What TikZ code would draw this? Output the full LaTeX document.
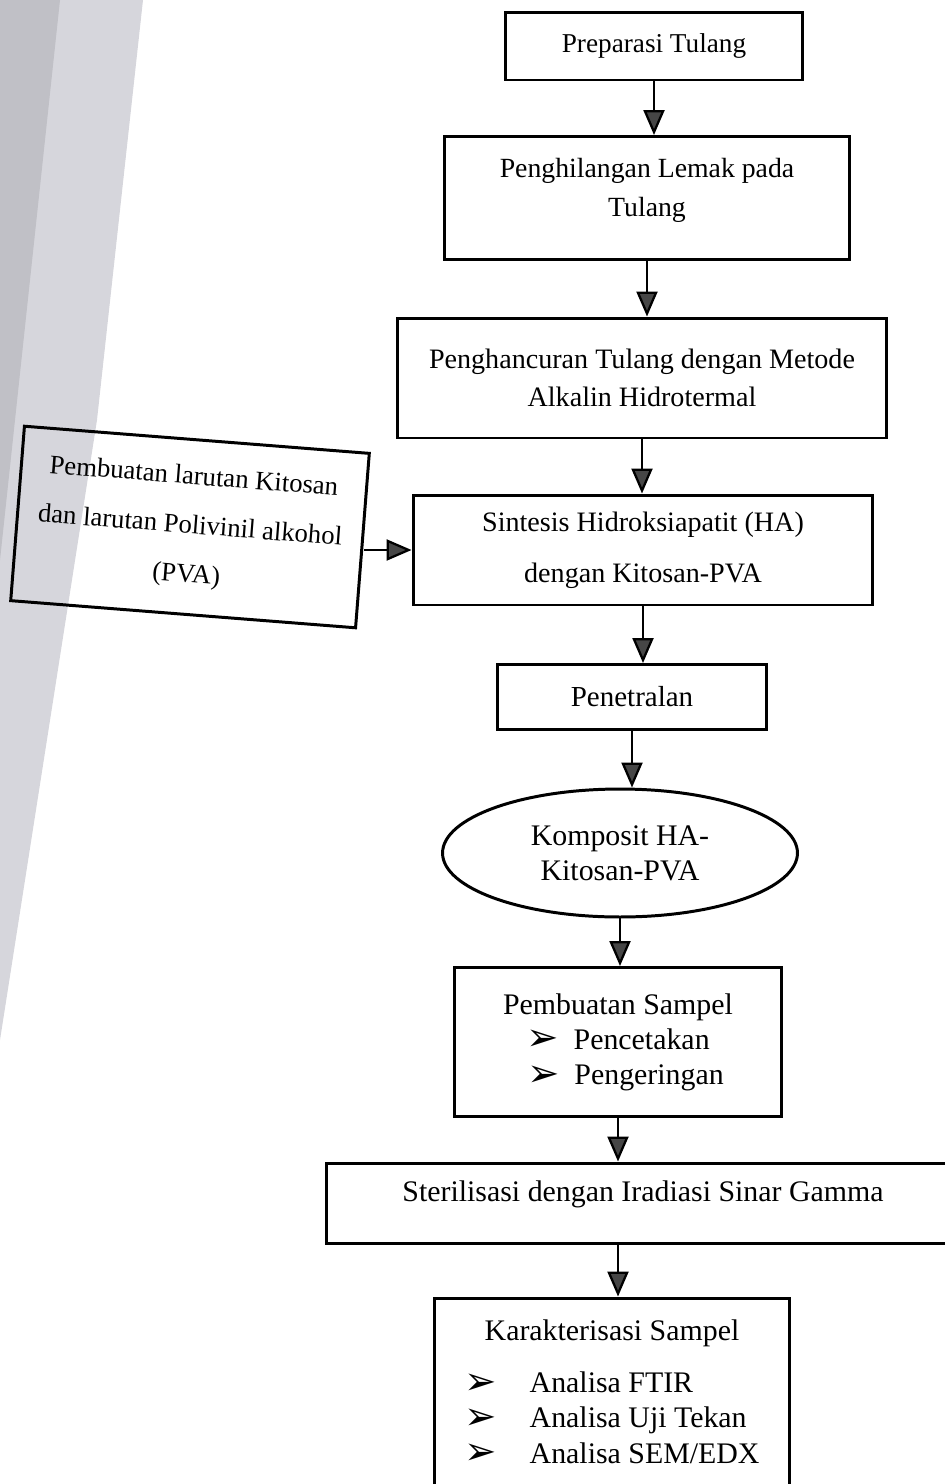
\documentclass[tikz,border=0pt]{standalone}
\usepackage{fontspec}
\setmainfont{Liberation Serif}
\newfontfamily\symfont{DejaVu Sans}
\usetikzlibrary{arrows.meta, shapes.geometric}

\newcommand{\arrbul}{\smash{\raisebox{-1pt}{\symfont\fontsize{22}{22}\selectfont ➢}}}

\definecolor{scanshade}{RGB}{214,214,220}
\definecolor{scandark}{RGB}{192,192,198}

\tikzset{
    stepbox/.style={draw, line width=1.7pt, align=center, inner sep=4pt,
        font=\fontsize{16}{22}\selectfont},
    flow/.style={line width=1.3pt,
        -{Triangle[length=0.5cm, width=0.42cm, fill=gray!55!black]}},
}

\begin{document}
\begin{tikzpicture}[x=0.02cm, y=-0.02cm]
    \useasboundingbox (0,0) rectangle (944,1484);
    % scan shadow at the left edge
    \fill[scanshade] (0,0) -- (143,0) -- (97,420) -- (0,1040) -- cycle;
    \fill[scandark] (0,0) -- (60,0) -- (0,560) -- cycle;

    % main column
    \node[stepbox, minimum width=5.96cm, minimum height=1.36cm,
        font=\fontsize{15.5}{22}\selectfont] (prep) at (654,46) {Preparasi Tulang};
    \node[stepbox, minimum width=8.12cm, minimum height=2.46cm,
        font=\fontsize{15.8}{22}\selectfont] (lemak) at (647,198)
        {Penghilangan Lemak pada\\Tulang\\[-10pt]};
    \node[stepbox, minimum width=9.78cm, minimum height=2.4cm] (hancur) at (642,378)
        {Penghancuran Tulang dengan Metode\\Alkalin Hidrotermal};
    \node[stepbox, minimum width=9.2cm, minimum height=2.2cm,
        font=\fontsize{16}{29}\selectfont] (sintesis) at (643,550)
        {Sintesis Hidroksiapatit (HA)\\dengan Kitosan-PVA};
    \node[stepbox, minimum width=6.92cm, minimum height=3.5cm, rotate=-4.5,
        font=\fontsize{15.2}{28}\selectfont] (pva) at (190,527)
        {Pembuatan larutan Kitosan\\dan larutan Polivinil alkohol\\(PVA)};
    \node[stepbox, minimum width=5.4cm, minimum height=1.3cm,
        font=\fontsize{16.5}{22}\selectfont] (netral) at (632,697) {Penetralan};
    \node[stepbox, ellipse, inner sep=0pt, minimum width=7.1cm, minimum height=2.56cm,
        font=\fontsize{17}{20}\selectfont] (komposit) at (620,853)
        {Komposit HA-\\Kitosan-PVA};
    \node[stepbox, minimum width=6.54cm, minimum height=2.98cm,
        font=\fontsize{17}{20}\selectfont] (sampel) at (618,1042)
        {Pembuatan Sampel\\\arrbul\ \ Pencetakan\\\hspace{0.5em}\arrbul\ \ Pengeringan};
    \node[stepbox, minimum width=12.66cm, minimum height=1.6cm,
        font=\fontsize{17}{22}\selectfont] (steril) at (643,1203)
        {Sterilisasi dengan Iradiasi Sinar Gamma\\[-8pt]};
    \node[stepbox, minimum width=7.12cm, minimum height=4.2cm,
        font=\fontsize{17}{20}\selectfont] (karak) at (612,1403)
        {Karakterisasi Sampel\\[11pt]
        \begin{tabular}{@{}l@{\hspace{1.1em}}l@{}}
        \arrbul & Analisa FTIR\\
        \arrbul & Analisa Uji Tekan\\
        \arrbul & Analisa SEM/EDX
        \end{tabular}\\[6pt]};

    % connectors
    \draw[flow] (prep.south) -- (prep.south |- lemak.north);
    \draw[flow] (lemak.south) -- (lemak.south |- hancur.north);
    \draw[flow] (hancur.south) -- (hancur.south |- sintesis.north);
    \draw[flow] (sintesis.west -| pva.east) -- (sintesis.west);
    \draw[flow] (sintesis.south) -- (sintesis.south |- netral.north);
    \draw[flow] (netral.south) -- (netral.south |- komposit.north);
    \draw[flow] (komposit.south) -- (komposit.south |- sampel.north);
    \draw[flow] (sampel.south) -- (sampel.south |- steril.north);
    \draw[flow] (sampel.south |- steril.south) -- (sampel.south |- karak.north);
\end{tikzpicture}
\end{document}
